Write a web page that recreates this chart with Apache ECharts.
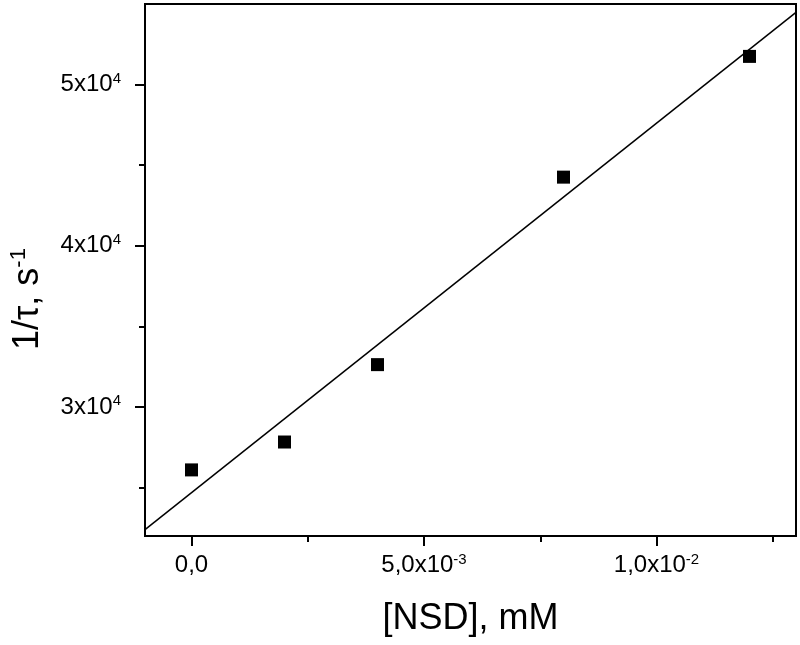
<!DOCTYPE html>
<html>
<head>
<meta charset="utf-8">
<script src="https://cdn.jsdelivr.net/npm/echarts@6/dist/echarts.min.js"></script>
<style>
  html, body { margin: 0; padding: 0; background: #fff; }
  #chart { width: 800px; height: 645px; }
</style>
</head>
<body>
<div id="chart"></div>
<script>
// measured points: 1/tau vs [NSD]
const nsdValues = [0, 0.002, 0.004, 0.008, 0.012]
const rateValues = [26100, 27830, 32630, 44260, 51750]

// linear fit line, read at the plot edges
const fitX = [-0.001, 0.013]
const fitY = [22400, 54480]

// ticks and their labels (base, exponent)
const xMajorTicks = [0, 0.005, 0.01]
const xMinorTicks = [0.0025, 0.0075, 0.0125]
const xTickLabels = [['0,0', ''], ['5,0x10', '-3'], ['1,0x10', '-2']]
const yMajorTicks = [30000, 40000, 50000]
const yMinorTicks = [25000, 35000, 45000]
const yTickLabels = [['3x10', '4'], ['4x10', '4'], ['5x10', '4']]

const FONT = '"Liberation Sans", Arial, sans-serif'

const tickRich = {
  b: { fontSize: 24, lineHeight: 27, color: '#000', fontFamily: FONT },
  s: { fontSize: 15, lineHeight: 15, color: '#000', fontFamily: FONT, verticalAlign: 'top' },
}

// 按数值找到对应的标签
const labelFor = (ticks, labels) => (value) => {
  const i = ticks.findIndex(t => Math.abs(t - value) < 1e-9)
  if (i < 0) return ''
  const [base, exp] = labels[i]
  return exp ? `{b|${base}}{s|${exp}}` : `{b|${base}}`
}

const xRange = { min: -0.001, max: 0.013 }
const yRange = { min: 22000, max: 55000 }

const chart = echarts.init(document.getElementById('chart'))

const option = {
  backgroundColor: '#fff',
  animation: false,
  grid: {
    left: 143, right: 4, top: 4, bottom: 109,
    show: true, borderColor: '#000', borderWidth: 2,
  },
  xAxis: [
    {
      type: 'value', ...xRange, position: 'bottom',
      axisLine: { show: true, onZero: false, lineStyle: { color: '#000', width: 2 } },
      axisTick: { show: true, inside: false, length: 10, lineStyle: { color: '#000', width: 2 }, customValues: xMajorTicks },
      axisLabel: { margin: 16, customValues: xMajorTicks, formatter: labelFor(xMajorTicks, xTickLabels), rich: tickRich },
      splitLine: { show: false },
      name: '[NSD], mM',
      nameLocation: 'middle',
      nameGap: 63,
      nameTextStyle: { fontSize: 36, lineHeight: 40, color: '#000', fontFamily: FONT },
    },
    {
      type: 'value', ...xRange, position: 'bottom',
      axisLine: { show: false, onZero: false },
      axisTick: { show: true, inside: false, length: 6, lineStyle: { color: '#000', width: 2 }, customValues: xMinorTicks },
      axisLabel: { show: false },
      splitLine: { show: false },
    },
  ],
  yAxis: [
    {
      type: 'value', ...yRange, position: 'left',
      axisLine: { show: true, onZero: false, lineStyle: { color: '#000', width: 2 } },
      axisTick: { show: true, inside: false, length: 10, lineStyle: { color: '#000', width: 2 }, customValues: yMajorTicks },
      axisLabel: { margin: 24, customValues: yMajorTicks, formatter: labelFor(yMajorTicks, yTickLabels), rich: tickRich },
      splitLine: { show: false },
      name: '{n|1/τ, s}{s|-1}',
      nameLocation: 'middle',
      nameGap: 97,
      nameTextStyle: {
        padding: [0, 58, 0, 0],
        rich: {
          n: { fontSize: 36, lineHeight: 40, color: '#000', fontFamily: FONT },
          s: { fontSize: 22, lineHeight: 22, color: '#000', fontFamily: FONT, verticalAlign: 'top' },
        },
      },
    },
    {
      type: 'value', ...yRange, position: 'left',
      axisLine: { show: false, onZero: false },
      axisTick: { show: true, inside: false, length: 6, lineStyle: { color: '#000', width: 2 }, customValues: yMinorTicks },
      axisLabel: { show: false },
      splitLine: { show: false },
    },
  ],
  series: [
    {
      type: 'line',
      data: fitX.map((x, i) => [x, fitY[i]]),
      showSymbol: false,
      symbol: 'none',
      lineStyle: { color: '#000', width: 1.5 },
      clip: true,
      z: 2,
    },
    {
      type: 'scatter',
      data: nsdValues.map((x, i) => [x, rateValues[i]]),
      symbol: 'rect',
      symbolSize: 13,
      itemStyle: { color: '#000', opacity: 1 },
      z: 3,
    },
  ],
}

chart.setOption(option)
</script>
</body>
</html>
